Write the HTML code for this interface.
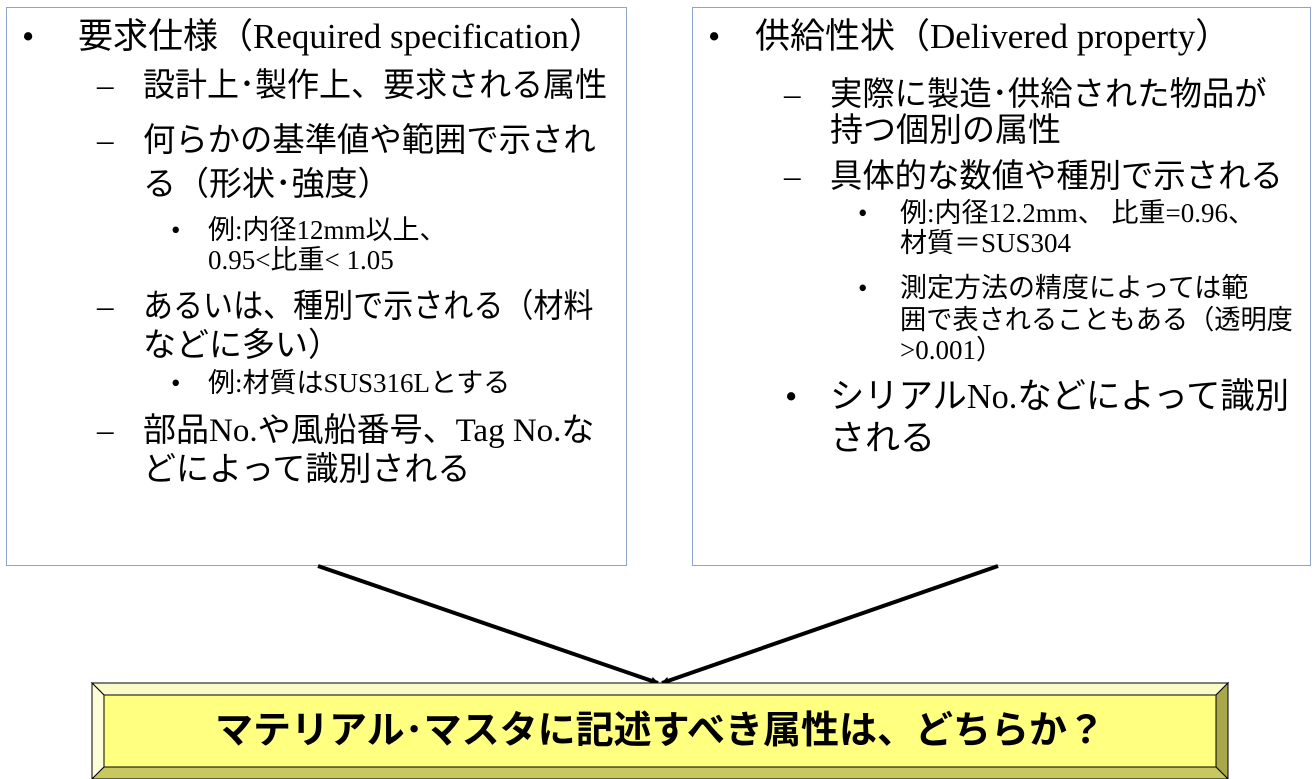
<!DOCTYPE html>
<html><head><meta charset="utf-8"><style>
body{margin:0;width:1314px;height:779px;background:#fff;position:relative;overflow:hidden;font-family:"Liberation Serif","Noto Sans CJK JP",serif;color:#000}
.box{position:absolute;border:1.5px solid #8da3cc;box-sizing:border-box;background:#fff}
.t{position:absolute;white-space:nowrap;line-height:1;transform-origin:0 50%}
.a{font-size:35px}.b{font-size:33px}.c{font-size:27px}.d{font-size:35px}
</style></head><body>
<div class="box" style="left:6px;top:7px;width:621px;height:559px"></div>
<div class="box" style="left:692px;top:7px;width:619px;height:559px"></div>

<div class="t a" style="left:22px;top:19px">•</div>
<div class="t a" style="left:78px;top:19px">要求仕様（Required specification）</div>
<div class="t b" style="left:97px;top:70px">–</div>
<div class="t b" style="left:143px;top:70px;transform:scaleX(0.97)">設計上･製作上、要求される属性</div>
<div class="t b" style="left:97px;top:125px">–</div>
<div class="t b" style="left:143px;top:125px;transform:scaleX(0.98)">何らかの基準値や範囲で示され</div>
<div class="t b" style="left:143px;top:169px">る（形状･強度）</div>
<div class="t c" style="left:171px;top:217px">•</div>
<div class="t c" style="left:208px;top:217px">例:内径12mm以上、</div>
<div class="t c" style="left:208px;top:247px">0.95&lt;比重&lt; 1.05</div>
<div class="t b" style="left:97px;top:291px">–</div>
<div class="t b" style="left:143px;top:291px;transform:scaleX(0.91)">あるいは、種別で示される（材料</div>
<div class="t b" style="left:143px;top:330px">などに多い）</div>
<div class="t c" style="left:171px;top:370px">•</div>
<div class="t c" style="left:208px;top:370px">例:材質はSUS316Lとする</div>
<div class="t b" style="left:97px;top:415px">–</div>
<div class="t b" style="left:143px;top:415px">部品No.や風船番号、Tag No.な</div>
<div class="t b" style="left:143px;top:454px">どによって識別される</div>

<div class="t a" style="left:708px;top:19px">•</div>
<div class="t a" style="left:755px;top:19px">供給性状（Delivered property）</div>
<div class="t b" style="left:784px;top:79px">–</div>
<div class="t b" style="left:830px;top:79px;transform:scaleX(0.98)">実際に製造･供給された物品が</div>
<div class="t b" style="left:830px;top:115px">持つ個別の属性</div>
<div class="t b" style="left:784px;top:161px">–</div>
<div class="t b" style="left:830px;top:161px;transform:scaleX(0.98)">具体的な数値や種別で示される</div>
<div class="t c" style="left:858px;top:200px">•</div>
<div class="t c" style="left:900px;top:200px">例:内径12.2mm、 比重=0.96、</div>
<div class="t c" style="left:900px;top:230px">材質＝SUS304</div>
<div class="t c" style="left:858px;top:275px">•</div>
<div class="t c" style="left:900px;top:275px">測定方法の精度によっては範</div>
<div class="t c" style="left:900px;top:307px;transform:scaleX(0.97)">囲で表されることもある（透明度</div>
<div class="t c" style="left:900px;top:337px">&gt;0.001）</div>
<div class="t d" style="left:785px;top:379px">•</div>
<div class="t d" style="left:830px;top:379px;transform:scaleX(0.98)">シリアルNo.などによって識別</div>
<div class="t d" style="left:830px;top:421px">される</div>

<svg style="position:absolute;left:0;top:0" width="1314" height="779">
<defs><marker id="m" markerWidth="8" markerHeight="8" refX="7" refY="4" orient="auto" markerUnits="userSpaceOnUse"><path d="M0,0 L8,4 L0,8 z" fill="#000"/></marker></defs>
<line x1="318" y1="566" x2="658" y2="683" stroke="#000" stroke-width="4" marker-end="url(#m)"/>
<line x1="998" y1="566" x2="662" y2="683" stroke="#000" stroke-width="4" marker-end="url(#m)"/>
<polygon points="92,683 1228,683 1216,695 104,695" fill="#fbfbc8" stroke="#000" stroke-width="1"/>
<polygon points="92,683 104,695 104,767 92,779" fill="#fdfdd8" stroke="#000" stroke-width="1"/>
<polygon points="1228,683 1216,695 1216,767 1228,779" fill="#a8a84a" stroke="#000" stroke-width="1"/>
<polygon points="92,779 104,767 1216,767 1228,779" fill="#c8c860" stroke="#000" stroke-width="1"/>
<rect x="104" y="695" width="1112" height="72" fill="#ffff80" stroke="#000" stroke-width="1"/>
</svg>
<div class="t" style="left:104px;top:712px;width:1112px;text-align:center;font-size:38px;font-family:'Liberation Sans','Noto Sans CJK JP',sans-serif;font-weight:bold">マテリアル･マスタに記述すべき属性は、どちらか？</div>
</body></html>
